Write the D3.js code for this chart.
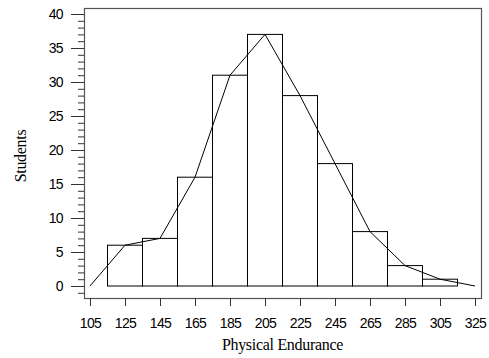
<!DOCTYPE html>
<html>
<head>
<meta charset="utf-8">
<script src="https://cdn.jsdelivr.net/npm/d3@7"></script>
<style>
  body { margin: 0; background: #fff; }
  svg { display: block; }
</style>
</head>
<body>
<svg id="chart" width="489" height="358"></svg>
<script>
// bin centres and counts
var binCenters = [125, 145, 165, 185, 205, 225, 245, 265, 285, 305];
var counts = [6, 7, 16, 31, 37, 28, 18, 8, 3, 1];
var binWidth = 20;
// frequency polygon closes at zero on both ends
var polyX = [105, 125, 145, 165, 185, 205, 225, 245, 265, 285, 305, 325];
var polyY = [0, 6, 7, 16, 31, 37, 28, 18, 8, 3, 1, 0];
var xTicks = [105, 125, 145, 165, 185, 205, 225, 245, 265, 285, 305, 325];
var yTicks = [0, 5, 10, 15, 20, 25, 30, 35, 40];

const svg = d3.select("#chart");

const frame = { left: 84, top: 8, right: 481, bottom: 298 };

const x = d3.scaleLinear().domain([105, 325]).range([90, 475]);
const y = d3.scaleLinear().domain([0, 40]).range([286, 14]);

// plot frame
svg.append("rect")
    .attr("x", frame.left + 0.5)
    .attr("y", frame.top + 0.5)
    .attr("width", frame.right - frame.left)
    .attr("height", frame.bottom - frame.top)
    .attr("fill", "none")
    .attr("stroke", "#555")
    .attr("stroke-width", 1.2);

// bars
svg.append("g")
    .selectAll("rect")
    .data(binCenters)
    .join("rect")
    .attr("x", (d) => x(d - binWidth / 2))
    .attr("y", (d, i) => y(counts[i]))
    .attr("width", (d) => x(d + binWidth / 2) - x(d - binWidth / 2))
    .attr("height", (d, i) => y(0) - y(counts[i]))
    .attr("fill", "none")
    .attr("stroke", "#000")
    .attr("stroke-width", 1);

// polygon
const line = d3.line()
    .x((d, i) => x(polyX[i]))
    .y((d) => y(d));

svg.append("path")
    .datum(polyY)
    .attr("d", line)
    .attr("fill", "none")
    .attr("stroke", "#000")
    .attr("stroke-width", 1);

// y axis, ticks outside left of frame
const yAxis = d3.axisLeft(y)
    .tickValues(yTicks)
    .tickSize(13)
    .tickPadding(8)
    .tickSizeOuter(0);

const gy = svg.append("g")
    .attr("transform", `translate(${frame.left},0)`)
    .call(yAxis);
gy.select(".domain").remove();

// minor y ticks every unit
const minor = d3.range(-1, 41).filter(v => v % 5 !== 0);
gy.selectAll(".minor")
    .data(minor)
    .join("line")
    .attr("class", "minor")
    .attr("x1", -6)
    .attr("x2", 0)
    .attr("y1", d => y(d) + 0.5)
    .attr("y2", d => y(d) + 0.5)
    .attr("stroke", "#333");

// x axis below frame
const xAxis = d3.axisBottom(x)
    .tickValues(xTicks)
    .tickSize(8)
    .tickPadding(12)
    .tickSizeOuter(0);

const gx = svg.append("g")
    .attr("transform", `translate(0,${frame.bottom})`)
    .call(xAxis);
gx.select(".domain").remove();

svg.selectAll(".tick line").attr("stroke", "#333");
svg.selectAll(".tick text")
    .attr("fill", "#000")
    .style("font-family", "'Liberation Sans', Arial, sans-serif")
    .style("font-size", "14px")
    .style("letter-spacing", "-0.6px");

// axis titles
svg.append("text")
    .attr("x", (frame.left + frame.right) / 2)
    .attr("y", 350)
    .attr("text-anchor", "middle")
    .style("font-family", "'Liberation Serif', 'Times New Roman', serif")
    .style("font-size", "16px")
    .style("letter-spacing", "-0.3px")
    .text("Physical Endurance");

svg.append("text")
    .attr("transform", `translate(26,156) rotate(-90)`)
    .attr("text-anchor", "middle")
    .style("font-family", "'Liberation Serif', 'Times New Roman', serif")
    .style("font-size", "16px")
    .style("letter-spacing", "-0.3px")
    .text("Students");
</script>
</body>
</html>
